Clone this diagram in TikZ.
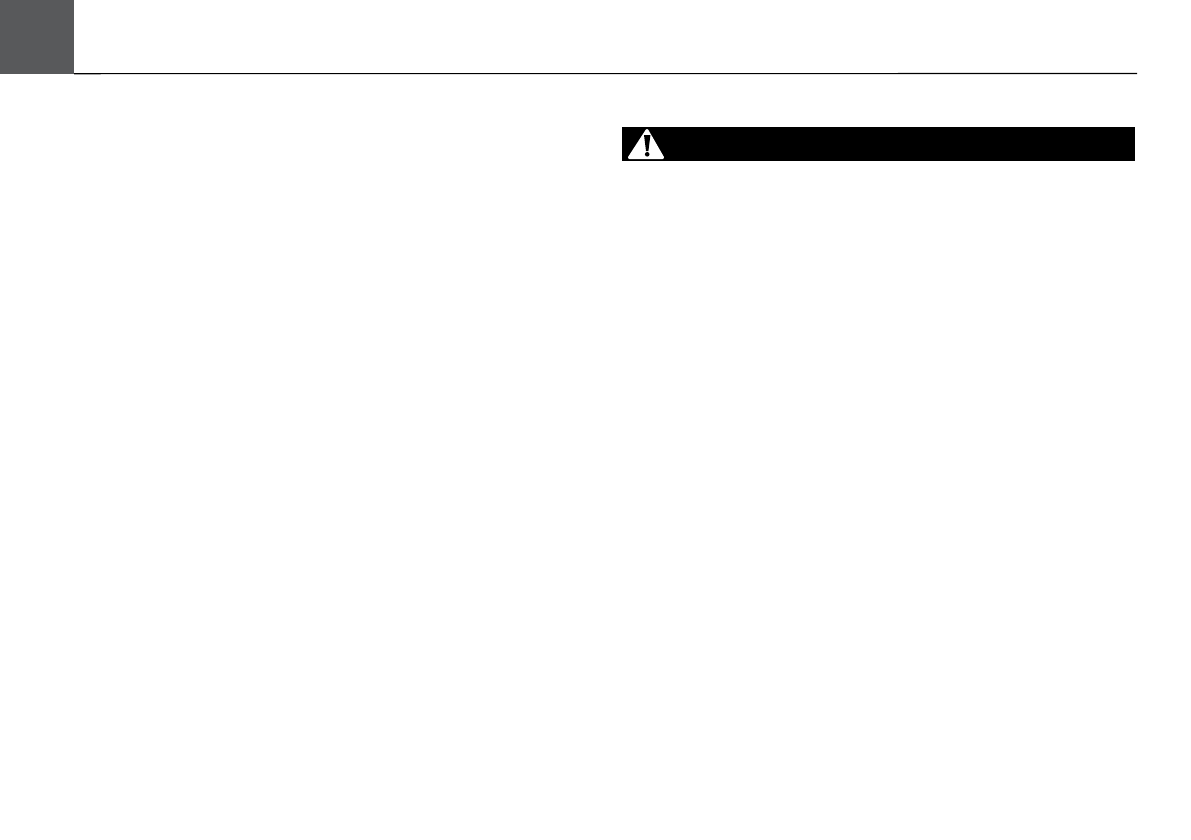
\documentclass[tikz,border=0pt]{standalone}
\usepackage{tikz}
\definecolor{tabgray}{RGB}{88,89,91}
\tikzset{
  tabbox/.style={fill=tabgray,inner sep=0pt,minimum width=74pt,minimum height=73.5pt},
  warnbar/.style={fill=black,inner sep=0pt,minimum width=513pt,minimum height=34pt}
}
\begin{document}
\begin{tikzpicture}[x=1pt,y=-1pt]
      \useasboundingbox (0,0) rectangle (1191,839);
      \node[tabbox] (tab) at (37,36.75) {};
      \coordinate (ruleend) at (1137,73.5);
      \node[warnbar] (bar) at (878.5,144) {};
      \draw[line width=1.1pt] (tab.south east) -- (ruleend);
      % warning sign
      \fill[white,draw=white,line width=3pt,line join=round] (647,130.5) -- (662.5,157.5) -- (629.5,157.5) -- cycle;
      \fill[black] (644,135) -- (650.4,135) -- (648.4,151) -- (646,151) -- cycle;
      \fill[black] (647.2,154.3) circle (2.3pt);
    \end{tikzpicture}
\end{document}
